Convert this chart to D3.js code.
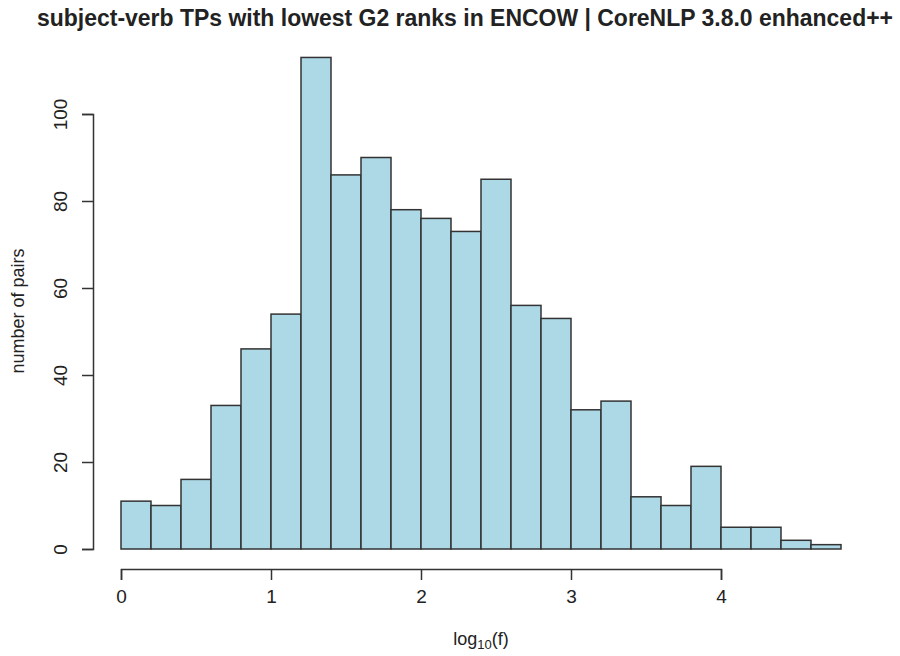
<!DOCTYPE html>
<html><head><meta charset="utf-8">
<script src="https://cdn.jsdelivr.net/npm/d3@7"></script>
<style>body{margin:0;background:#fff;} text{font-family:"Liberation Sans",Arial,sans-serif;fill:#222;}</style>
</head><body>
<svg id="c" width="900" height="656"></svg>
<script>
const binStarts = [0,0.2,0.4,0.6,0.8,1.0,1.2,1.4,1.6,1.8,2.0,2.2,2.4,2.6,2.8,3.0,3.2,3.4,3.6,3.8,4.0,4.2,4.4,4.6];
const binWidth = 0.2;
const counts = [11,10,16,33,46,54,113,86,90,78,76,73,85,56,53,32,34,12,10,19,5,5,2,1];
const xTicks = [0,1,2,3,4];
const yTicks = [0,20,40,60,80,100];
const title = "subject-verb TPs with lowest G2 ranks in ENCOW | CoreNLP 3.8.0 enhanced++";

const svg = d3.select("#c");
const x = d3.scaleLinear().domain([0,4]).range([121,721]);
const y = d3.scaleLinear().domain([0,100]).range([549,114]);

svg.append("g").selectAll("rect").data(counts).join("rect")
  .attr("x",(d,i)=>x(binStarts[i]))
  .attr("width",(d,i)=>x(binStarts[i]+binWidth)-x(binStarts[i]))
  .attr("y",d=>y(d))
  .attr("height",d=>y(0)-y(d))
  .attr("fill","#add8e6").attr("stroke","#333").attr("stroke-width",1.5);

const xa = svg.append("g").attr("transform","translate(0,569)")
  .call(d3.axisBottom(x).tickValues(xTicks).tickSize(11).tickPadding(10).tickFormat(d3.format("d")));
const ya = svg.append("g").attr("transform","translate(93,0)")
  .call(d3.axisLeft(y).tickValues(yTicks).tickSize(11).tickPadding(8).tickFormat(d3.format("d")));
[xa,ya].forEach(a=>{
  a.attr("font-size",null).attr("font-family",null);
  a.select(".domain").attr("stroke","#333").attr("stroke-width",1.5);
  a.selectAll(".tick line").attr("stroke","#333").attr("stroke-width",1.5);
  a.selectAll("text").attr("font-size",19).style("font-size","19px").style("fill","#222");
});
ya.selectAll(".tick text").attr("text-anchor","middle").attr("dy",null).attr("x",null).attr("y",0)
  .attr("dominant-baseline","middle").attr("transform","translate(-31,0) rotate(-90)");

svg.append("text").attr("x",465).attr("y",26).attr("text-anchor","middle")
  .style("font-size","23px").attr("font-weight","bold").attr("textLength",856).attr("lengthAdjust","spacingAndGlyphs")
  .text(title);

svg.append("text").attr("transform","translate(24,311) rotate(-90)").attr("text-anchor","middle")
  .style("font-size","18px").text("number of pairs");

const xl = svg.append("text").attr("x",481).attr("y",645).attr("text-anchor","middle").style("font-size","18px");
xl.append("tspan").text("log");
xl.append("tspan").style("font-size","13px").attr("dy",4).text("10");
xl.append("tspan").attr("dy",-4).text("(f)");
</script>
</body></html>
